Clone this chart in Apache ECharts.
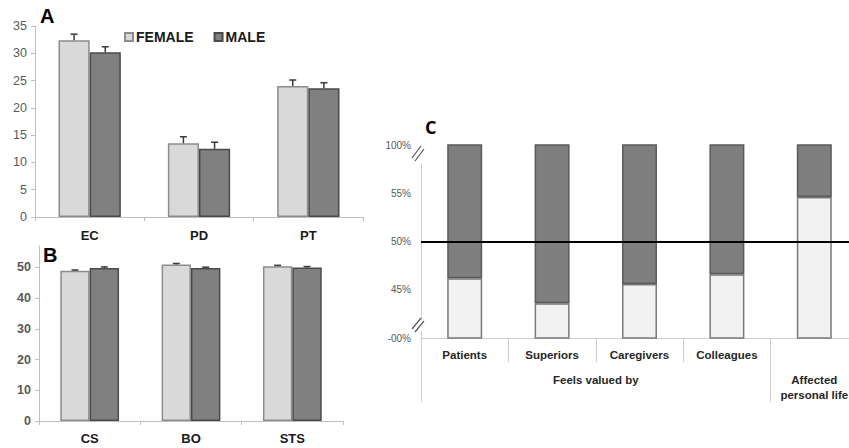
<!DOCTYPE html>
<html>
<head>
<meta charset="utf-8">
<script src="https://cdn.jsdelivr.net/npm/echarts@6/dist/echarts.min.js"></script>
<style>
  html, body { margin: 0; padding: 0; background: #fff; }
  #chart { width: 849px; height: 448px; }
</style>
</head>
<body>
<div id="chart"></div>
<script>
// ---- Panel A: empathy subscales by gender (mean + SE) ----
const catsA = ['EC', 'PD', 'PT'];
const femaleA = [32.4, 13.5, 24.0];
const maleA = [30.2, 12.5, 23.6];
const femaleErrA = [1.1, 1.2, 1.1];
const maleErrA = [1.0, 1.2, 1.0];

// ---- Panel B: professional quality of life subscales by gender ----
const catsB = ['CS', 'BO', 'STS'];
const femaleB = [48.9, 51.0, 50.4];
const maleB = [49.8, 49.8, 50.0];
const femaleErrB = [0.3, 0.3, 0.3];
const maleErrB = [0.4, 0.3, 0.3];

// ---- Panel C: share of answers (light = yes, dark = no) ----
const catsC = ['Patients', 'Superiors', 'Caregivers', 'Colleagues', ''];
const yesC = [46.2, 43.6, 45.6, 46.6, 54.6];
const noC = [53.8, 56.4, 54.4, 53.4, 45.4];
const groupsC = [
  { label: 'Feels valued by', from: 0, to: 4 },
  { label: 'Affected\npersonal life', from: 4, to: 5 }
];
// Broken percentage axis: tick positions and the text shown at each
const tickValuesC = [40, 45, 50, 55, 60];
const tickTextC = ['-00%', '45%', '50%', '55%', '100%'];

const FONT = '"Liberation Sans", Arial, sans-serif';
const FEMALE_FILL = '#d9d9d9', FEMALE_LINE = '#8c8c8c';
const MALE_FILL = '#808080', MALE_LINE = '#4a4a4a';
const AXIS_GRAY = '#bfbfbf', LABEL_GRAY = '#595959', ERR_COLOR = '#3a3a3a';

// Upper error whisker drawn over one bar of a two-bar group
function errorSeries(name, axisIndex, vals, errs, side, barRatio) {
  return {
    type: 'custom', name: name, xAxisIndex: axisIndex, yAxisIndex: axisIndex,
    silent: true, z: 5,
    data: vals.map((v, i) => [i, v, v + errs[i]]),
    renderItem: function (params, api) {
      const i = api.value(0);
      const base = api.coord([i, api.value(1)]);
      const top = api.coord([i, api.value(2)]);
      const cw = api.size([1, 0])[0];
      const x = base[0] + side * cw * barRatio / 2;
      const st = { stroke: ERR_COLOR, lineWidth: 1.5 };
      return { type: 'group', children: [
        { type: 'line', shape: { x1: x, y1: base[1], x2: x, y2: top[1] }, style: st },
        { type: 'line', shape: { x1: x - 3.5, y1: top[1], x2: x + 3.5, y2: top[1] }, style: st }
      ] };
    }
  };
}

function catAxis(gridIndex, data, margin) {
  return {
    type: 'category', gridIndex: gridIndex, data: data,
    axisLine: { lineStyle: { color: AXIS_GRAY, width: 1 } },
    axisTick: { show: true, length: 4, interval: 0, lineStyle: { color: AXIS_GRAY } },
    axisLabel: { margin: margin, color: '#1a1a1a', fontFamily: FONT, fontWeight: 'bold', fontSize: 13 }
  };
}

const barRatioA = 0.285, barRatioB = 0.29;

const option = {
  animation: false,
  backgroundColor: '#ffffff',
  legend: {
    data: ['FEMALE', 'MALE'],
    left: 119, top: 25,
    itemWidth: 8, itemHeight: 8, itemGap: 20,
    icon: 'rect',
    textStyle: { fontFamily: FONT, fontWeight: 'bold', fontSize: 14, color: '#1a1a1a', padding: [0, 0, 0, -2] }
  },
  grid: [
    { left: 35, top: 26, width: 328, height: 191 },
    { left: 39, top: 246, width: 304, height: 175 },
    { left: 421, top: 145, width: 437, height: 193, outerBoundsMode: 'none' }
  ],
  xAxis: [
    catAxis(0, catsA, 12),
    catAxis(1, catsB, 11),
    {
      type: 'category', gridIndex: 2, data: catsC,
      axisLine: { lineStyle: { color: '#cfcfcf' } },
      axisTick: { show: true, length: 24, interval: 0, lineStyle: { color: '#cfcfcf' } },
      axisLabel: { margin: 11, color: '#262626', fontFamily: FONT, fontWeight: 'bold', fontSize: 11.5 }
    },
    {
      // second label row: group captions spanning several categories
      type: 'value', gridIndex: 2, min: 0, max: catsC.length, position: 'bottom',
      axisLine: { show: false },
      splitLine: { show: false },
      axisTick: {
        show: true, length: 64, lineStyle: { color: '#cfcfcf' },
        customValues: [0].concat(groupsC.map(g => g.to))
      },
      axisLabel: {
        margin: 34, color: '#262626', fontFamily: FONT, fontWeight: 'bold', fontSize: 11.5, lineHeight: 15,
        customValues: groupsC.map(g => (g.from + g.to) / 2),
        formatter: function (v) {
          const g = groupsC.find(g => (g.from + g.to) / 2 === v);
          return g ? g.label : '';
        }
      }
    }
  ],
  yAxis: [
    {
      type: 'value', gridIndex: 0, min: 0, max: 35, interval: 5,
      axisLine: { show: true, lineStyle: { color: AXIS_GRAY } },
      axisTick: { show: true, length: 4, lineStyle: { color: AXIS_GRAY } },
      splitLine: { show: false },
      axisLabel: { margin: 8, color: LABEL_GRAY, fontFamily: FONT, fontSize: 12.5 }
    },
    {
      type: 'value', gridIndex: 1, min: 0, max: 57, interval: 10,
      axisLine: { show: true, lineStyle: { color: AXIS_GRAY } },
      axisTick: { show: true, length: 4, lineStyle: { color: AXIS_GRAY } },
      splitLine: { show: false },
      axisLabel: { margin: 8, color: LABEL_GRAY, fontFamily: FONT, fontSize: 12.5, fontWeight: 'bold', showMaxLabel: false }
    },
    {
      type: 'value', gridIndex: 2, min: 40, max: 60, interval: 5,
      axisLine: { show: true, lineStyle: { color: '#cfcfcf' } },
      axisTick: { show: false },
      splitLine: { show: false },
      axisLabel: {
        margin: 10, color: LABEL_GRAY, fontFamily: FONT, fontSize: 10,
        formatter: function (v) {
          const k = tickValuesC.indexOf(v);
          return k >= 0 ? tickTextC[k] : '';
        }
      }
    }
  ],
  series: [
    {
      type: 'bar', name: 'FEMALE', xAxisIndex: 0, yAxisIndex: 0, data: femaleA,
      barWidth: (barRatioA * 100) + '%', barGap: '0%',
      itemStyle: { color: FEMALE_FILL, borderColor: FEMALE_LINE, borderWidth: 1.5 }
    },
    {
      type: 'bar', name: 'MALE', xAxisIndex: 0, yAxisIndex: 0, data: maleA,
      barWidth: (barRatioA * 100) + '%', barGap: '0%',
      itemStyle: { color: MALE_FILL, borderColor: MALE_LINE, borderWidth: 1.5 }
    },
    errorSeries('female SE A', 0, femaleA, femaleErrA, -1, barRatioA),
    errorSeries('male SE A', 0, maleA, maleErrA, 1, barRatioA),
    {
      type: 'bar', name: 'FEMALE', xAxisIndex: 1, yAxisIndex: 1, data: femaleB,
      barWidth: (barRatioB * 100) + '%', barGap: '0%',
      itemStyle: { color: FEMALE_FILL, borderColor: FEMALE_LINE, borderWidth: 1.5 }
    },
    {
      type: 'bar', name: 'MALE', xAxisIndex: 1, yAxisIndex: 1, data: maleB,
      barWidth: (barRatioB * 100) + '%', barGap: '0%',
      itemStyle: { color: MALE_FILL, borderColor: MALE_LINE, borderWidth: 1.5 }
    },
    errorSeries('female SE B', 1, femaleB, femaleErrB, -1, barRatioB),
    errorSeries('male SE B', 1, maleB, maleErrB, 1, barRatioB),
    {
      type: 'bar', name: 'Yes', xAxisIndex: 2, yAxisIndex: 2, stack: 'c', data: yesC,
      barWidth: '40%',
      itemStyle: { color: '#f2f2f2', borderColor: '#7a7a7a', borderWidth: 1.5 },
      markLine: {
        silent: true, symbol: 'none', label: { show: false },
        lineStyle: { color: '#000', width: 2, type: 'solid' },
        data: [{ yAxis: 50 }]
      }
    },
    {
      type: 'bar', name: 'No', xAxisIndex: 2, yAxisIndex: 2, stack: 'c', data: noC,
      barWidth: '40%',
      itemStyle: { color: '#7f7f7f', borderColor: '#5a5a5a', borderWidth: 1.5 }
    }
  ],
  graphic: [
    { type: 'text', left: 40, top: 6, style: { text: 'A', font: 'bold 20px ' + FONT, fill: '#000' } },
    { type: 'text', left: 43, top: 245, style: { text: 'B', font: 'bold 20px ' + FONT, fill: '#000' } },
    { type: 'text', left: 425, top: 118, style: { text: 'C', font: 'bold 18px "Open Sans", sans-serif', fill: '#000' } },
    // axis break marks on the percentage axis
    { type: 'rect', shape: { x: 417, y: 145, width: 8, height: 18 }, style: { fill: '#fff' }, z: 50 },
    { type: 'line', shape: { x1: 412, y1: 158, x2: 421, y2: 146 }, style: { stroke: '#595959', lineWidth: 1.2 }, z: 51 },
    { type: 'line', shape: { x1: 415, y1: 161, x2: 424, y2: 149 }, style: { stroke: '#595959', lineWidth: 1.2 }, z: 51 },
    { type: 'rect', shape: { x: 417, y: 320, width: 8, height: 11 }, style: { fill: '#fff' }, z: 50 },
    { type: 'line', shape: { x1: 412, y1: 329, x2: 421, y2: 318 }, style: { stroke: '#595959', lineWidth: 1.2 }, z: 51 },
    { type: 'line', shape: { x1: 415, y1: 332, x2: 424, y2: 321 }, style: { stroke: '#595959', lineWidth: 1.2 }, z: 51 }
  ]
};

const chart = echarts.init(document.getElementById('chart'), null, { renderer: 'svg' });
chart.setOption(option);
</script>
</body>
</html>
